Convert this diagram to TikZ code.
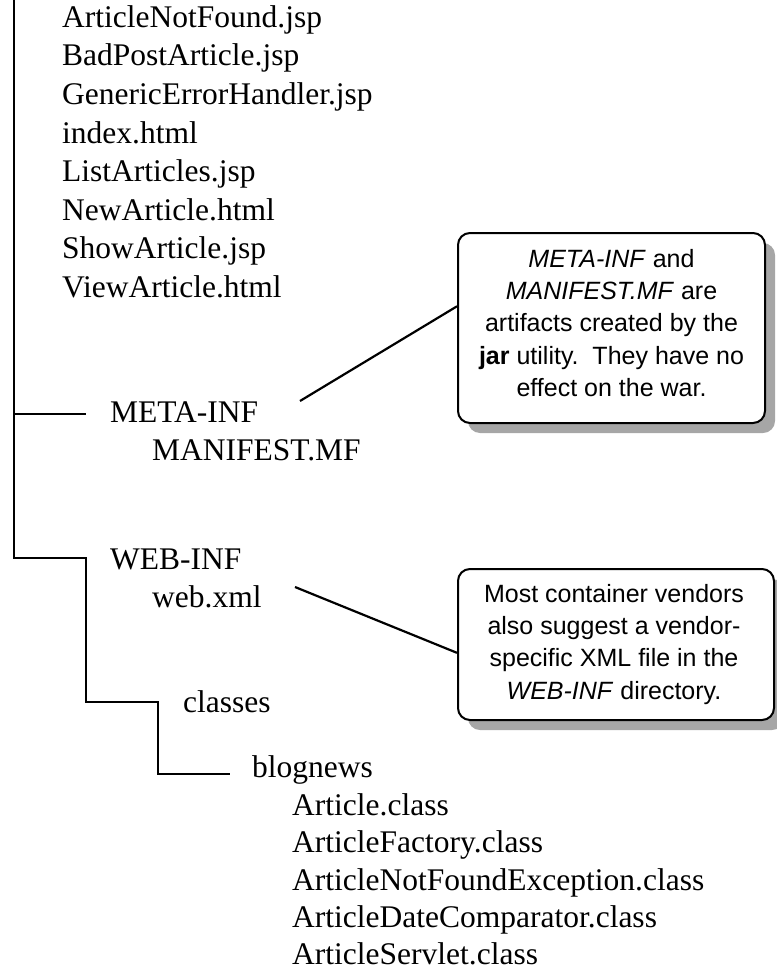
\documentclass[tikz,border=0pt]{standalone}
\usepackage{fontspec}
\setmainfont{Liberation Serif}
\newfontfamily\notefont{Liberation Sans}
\usetikzlibrary{shadows}
\begin{document}
\begin{tikzpicture}[x=1pt,y=-1pt,
  treeline/.style={line width=2.2pt},
  callout/.style={line width=2.2pt},
  entry/.style={anchor=base west, inner sep=0pt, font=\fontsize{31.5}{38}\selectfont},
  notebox/.style={draw, line width=2pt, rounded corners=12pt, fill=white,
    drop shadow={shadow xshift=10pt, shadow yshift=-10pt, fill=black!35, opacity=1}},
  notetext/.style={font=\notefont\fontsize{25}{32.3}\selectfont, align=center, inner sep=0pt, anchor=north}]
\useasboundingbox (0,0) rectangle (776,974);

% tree skeleton
\coordinate (top) at (14,0);
\coordinate (jMeta) at (14,414);
\coordinate (eMeta) at (86,414);
\coordinate (jWeb) at (14,558);
\coordinate (eWeb) at (86,558);
\coordinate (jCls) at (86,702);
\coordinate (eCls) at (158,702);
\coordinate (jBlog) at (158,774);
\coordinate (eBlog) at (230,774);

\draw[treeline] (top) -- (jWeb) -- (eWeb) -- (jCls) -- (eCls) -- (jBlog) -- (eBlog);
\draw[treeline] (jMeta) -- (eMeta);

% top-level files
\node[entry] (f1) at (62,27.3) {ArticleNotFound.jsp};
\node[entry] (f2) at (62,65.9) {BadPostArticle.jsp};
\node[entry] (f3) at (62,104.5) {GenericErrorHandler.jsp};
\node[entry] (f4) at (62,143.1) {index.html};
\node[entry] (f5) at (62,181.7) {ListArticles.jsp};
\node[entry] (f6) at (62,220.3) {NewArticle.html};
\node[entry] (f7) at (62,258.9) {ShowArticle.jsp};
\node[entry] (f8) at (62,297.5) {ViewArticle.html};

\node[entry] (meta) at (110,422) {META-INF};
\node[entry] (manifest) at (152,460) {MANIFEST.MF};

\node[entry] (web) at (110,569) {WEB-INF};
\node[entry] (webxml) at (152,607) {web.xml};

\node[entry] (classes) at (183,712) {classes};
\node[entry] (blognews) at (252,777) {blognews};

\node[entry] (c1) at (292,815.5) {Article.class};
\node[entry] (c2) at (292,852.8) {ArticleFactory.class};
\node[entry] (c3) at (292,890.1) {ArticleNotFoundException.class};
\node[entry] (c4) at (292,927.4) {ArticleDateComparator.class};
\node[entry] (c5) at (292,964.7) {ArticleServlet.class};

% callout boxes
\node[notebox, minimum width=307pt, minimum height=190pt] (box1) at (611.5,328) {};
\node[notetext] (box1txt) at (611.5,249) {\textit{META-INF} and\\\textit{MANIFEST.MF} are\\artifacts created by the\\\textbf{jar} utility.\ \ They have no\\effect on the war.};

\node[notebox, minimum width=316pt, minimum height=151pt] (box2) at (616,644.5) {};
\node[notetext] (box2txt) at (614,584) {Most container vendors\\also suggest a vendor-\\specific XML file in the\\\textit{WEB-INF} directory.};

% callout connectors
\coordinate (m1) at (300,401);
\coordinate (m2) at (295,587);
\draw[callout] (m1) -- (box1.172);
\draw[callout] (m2) -- (box2.183);
\end{tikzpicture}
\end{document}
